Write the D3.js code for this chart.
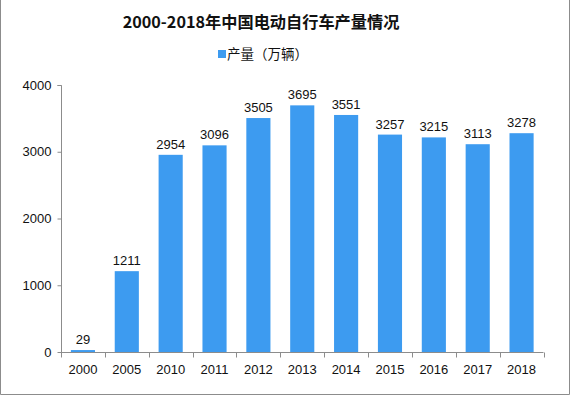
<!DOCTYPE html>
<html><head><meta charset="utf-8">
<script src="https://cdn.jsdelivr.net/npm/d3@7"></script>
<style>body{margin:0;background:#fff}svg{display:block}</style>
</head><body>
<script>
const categories = ["2000","2005","2010","2011","2012","2013","2014","2015","2016","2017","2018"];
const values = [29,1211,2954,3096,3505,3695,3551,3257,3215,3113,3278];
const yTicks = [0,1000,2000,3000,4000];
const title = "2000-2018年中国电动自行车产量情况";
const legendLabel = "产量（万辆）";

const W = 571, H = 396;
const svg = d3.select("body").append("svg").attr("width", W).attr("height", H);
svg.append("rect").attr("width", W).attr("height", H).attr("fill", "#fff");
// frame
svg.append("path").attr("d", `M0.5,0 V${H-1.5} H${W-1.5} V0`).attr("fill","none").attr("stroke","#8c8c8c").attr("stroke-width",1);

const x = d3.scaleBand().domain(categories).range([61, 543.5]).paddingInner(0.45).paddingOuter(0.225);
const y = d3.scaleLinear().domain([0, 4000]).range([352, 85]);
const barColor = "#3d9bf0";

svg.append("text").attr("x", 261).attr("y", 28).attr("text-anchor","middle")
  .attr("font-family","'Noto Sans CJK SC'").attr("font-weight","bold").attr("font-size",16.2)
  .attr("fill","#111").text(title);

const lg = svg.append("g");
lg.append("rect").attr("x",218).attr("y",50).attr("width",8).attr("height",8).attr("fill",barColor);
lg.append("text").attr("x",227).attr("y",59).attr("font-family","'Noto Sans CJK SC'").attr("font-size",13.5).attr("fill","#111").text(legendLabel);

// y axis
const yAxis = svg.append("g").attr("transform","translate(61.5,0)")
  .call(d3.axisLeft(y).tickValues(yTicks).tickSize(4).tickPadding(6).tickFormat(d3.format("d")));
yAxis.select(".domain").attr("d", `M-4,${y(4000)+0.5}H0V${y(0)+0.5}`);

// x axis
const xg = svg.append("g").attr("transform",`translate(0,${y(0)+0.5})`);
xg.append("line").attr("x1",61).attr("x2",543.5).attr("stroke","#8c8c8c");
const step = x.step();
const bounds = d3.range(categories.length+1).map(i => 61 + i*step);
xg.selectAll(".tk").data(bounds).join("line").attr("x1",d=>Math.round(d)+0.5).attr("x2",d=>Math.round(d)+0.5).attr("y1",0).attr("y2",5).attr("stroke","#8c8c8c");
xg.selectAll(".lbl").data(categories).join("text").attr("x",d=>x(d)+x.bandwidth()/2).attr("y",21)
  .attr("text-anchor","middle").attr("font-family","'Liberation Sans'").attr("font-size",13).attr("fill","#111").text(d=>d);

yAxis.selectAll("path,line").attr("stroke","#8c8c8c");
yAxis.selectAll("text").attr("font-family","'Liberation Sans'").attr("font-size",13).attr("fill","#111");

// bars
svg.selectAll(".bar").data(values).join("rect")
  .attr("x",(d,i)=>x(categories[i])).attr("width",x.bandwidth())
  .attr("y",d=>y(d)).attr("height",d=>y(0)-y(d)).attr("fill",barColor);

svg.selectAll(".val").data(values).join("text")
  .attr("x",(d,i)=>x(categories[i])+x.bandwidth()/2).attr("y",d=>y(d)-6)
  .attr("text-anchor","middle").attr("font-family","'Liberation Sans'").attr("font-size",13).attr("fill","#111")
  .text(d=>d);
</script>
</body></html>
